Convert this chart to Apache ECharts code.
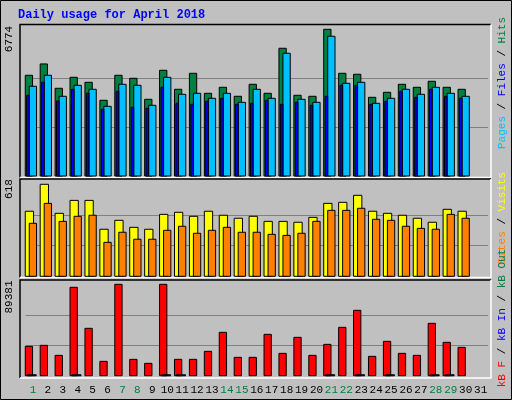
<!DOCTYPE html>
<html><head><meta charset="utf-8">
<script src="https://cdn.jsdelivr.net/npm/echarts@6/dist/echarts.min.js"></script>
<style>html,body{margin:0;padding:0;background:#C0C0C0}#c{width:512px;height:400px}</style>
</head><body><div id="c"></div>
<script>
const days = ['1','2','3','4','5','6','7','8','9','10','11','12','13','14','15','16','17','18','19','20','21','22','23','24','25','26','27','28','29','30','31'];
const weekend = ['1','7','8','14','15','21','22','28','29'];
const hits  = [4651,5174,4050,4558,4327,3496,4651,4512,3542,4882,4004,4743,3819,4096,3681,4235,3819,5898,3727,3681,6774,4743,4697,3634,3865,4235,4096,4374,4096,4004,0];
const files = [4143,4651,3681,4189,4004,3219,4235,4189,3265,4558,3773,3819,3588,3819,3403,4004,3588,5667,3542,3403,6453,4281,4327,3357,3588,4004,3773,4096,3819,3681,0];
const pages = [3727,4327,3465,4004,3819,3080,3912,3172,3126,4096,3357,3311,3450,3588,3311,3357,3496,3311,3403,3265,3681,4189,4189,3311,3450,3912,3634,4004,3681,3588,0];
const visits = [437,618,423,510,510,316,376,329,316,416,430,403,437,410,390,403,369,369,363,396,490,497,544,437,423,410,390,363,450,437,0];
const sites  = [356,490,369,403,410,228,296,249,249,309,336,289,309,329,296,296,282,275,289,369,443,443,457,383,376,336,322,316,416,390,0];
const kbF  = [28706,29684,19898,86443,46320,14027,89381,15984,12069,89381,15984,15984,23813,42406,17941,17941,40449,21855,37513,19898,30663,47299,63935,18920,33599,21855,19898,51213,32620,27727,0];
const kbIn = [900,0,0,900,0,0,0,0,0,900,900,0,0,0,0,0,0,0,0,0,900,0,900,0,900,0,0,900,900,0,0];
const maxTop = 6774, maxMid = 618, maxBot = 89381;

const chart = echarts.init(document.getElementById('c'));
const L = 25.5, W = 462.6;
function bar(data, gi, off, w, color){
  return {type:'custom', xAxisIndex:gi, yAxisIndex:gi, clip:false,
    data: data.map((v,i)=>[i,v]),
    renderItem:(p,api)=>{
      const v=api.value(1); if(!v) return null;
      const t=api.coord([api.value(0),v]), b=api.coord([api.value(0),0]);
      return {type:'rect', shape:{x:t[0]+off, y:t[1], width:w, height:Math.max(b[1]-t[1],1)},
        style:{fill:color, stroke:'#000', lineWidth:1}};
    }};
}
const grids=[{left:L,width:W,top:29.3,height:146.7},{left:L,width:W,top:184.3,height:92},{left:L,width:W,top:284.3,height:91.4}];
const maxes=[maxTop,maxMid,maxBot];
const mono='"Liberation Mono","DejaVu Sans Mono",monospace';
function panel(y,h){return [
  {type:'rect',shape:{x:20,y:y,width:471,height:h},style:{fill:'#C0C0C0',stroke:null},z:-10},
  {type:'polyline',shape:{points:[[20,y+h],[20,y],[491,y]]},style:{stroke:'#000',lineWidth:1.5,fill:null},z:-9},
  {type:'polyline',shape:{points:[[20,y+h],[491,y+h],[491,y]]},style:{stroke:'#fff',lineWidth:1.5,fill:null},z:-9}];}
function vtext(x,y,rich,str){return {type:'text',x:x,y:y,rotation:Math.PI/2,style:{text:str,rich:rich,font:'11px '+mono,align:'center',verticalAlign:'middle'}};}
chart.setOption({
  animation:false, backgroundColor:'#C0C0C0',
  grid:grids,
  xAxis:grids.map((g,i)=>({type:'category',gridIndex:i,data:days,boundaryGap:true,
    axisLine:{show:false},axisTick:{show:false},
    axisLabel:{show:i===2,margin:9,interval:0,fontFamily:mono,fontSize:11,
      formatter:v=>weekend.includes(v)?'{g|'+v+'}':'{k|'+v+'}',
      rich:{g:{color:'#008040',fontFamily:mono,fontSize:11},k:{color:'#000',fontFamily:mono,fontSize:11}}}})),
  yAxis:grids.map((g,i)=>({type:'value',gridIndex:i,min:0,max:maxes[i],interval:maxes[i]/3,
    axisLine:{show:false},axisTick:{show:false},axisLabel:{show:false},
    splitLine:{show:true,showMinLine:false,showMaxLine:false,lineStyle:{color:'#808080',width:1}}})),
  series:[
    bar(hits,0,-7.7,7.3,'#008040'),
    bar(files,0,-3.7,7.3,'#00C0FF'),
    bar(pages,0,-6.3,2.6,'#0000FF'),
    bar(visits,1,-7.7,8.3,'#FFFF00'),
    bar(sites,1,-3.7,7.3,'#FF8000'),
    bar(kbF,2,-7.7,7.3,'#FF0000'),
    bar(kbIn,2,-5.7,9,'#0000FF')
  ],
  graphic:[
    {type:'rect',shape:{x:0.5,y:0.5,width:511,height:399},style:{fill:null,stroke:'#000',lineWidth:1},z:-20},
    ...panel(24.5,153),...panel(179,98.5),...panel(280,98),
    {type:'text',x:18,y:9,style:{text:'Daily usage for April 2018',font:'bold 12px '+mono,fill:'#0000FF'}},
    {type:'text',x:9,y:39,rotation:Math.PI/2,style:{text:'6774',font:'11px '+mono,fill:'#000',align:'center',verticalAlign:'middle'}},
    {type:'text',x:9,y:189,rotation:Math.PI/2,style:{text:'618',font:'11px '+mono,fill:'#000',align:'center',verticalAlign:'middle'}},
    {type:'text',x:9,y:297,rotation:Math.PI/2,style:{text:'89381',font:'11px '+mono,fill:'#000',align:'center',verticalAlign:'middle'}},
    vtext(502,83,{p:{fill:'#00C0FF',font:'11px '+mono},f:{fill:'#0000FF',font:'11px '+mono},h:{fill:'#008040',font:'11px '+mono},s:{fill:'#000',font:'11px '+mono}},'{p|Pages}{s| / }{f|Files}{s| / }{h|Hits}'),
    vtext(502,218,{o:{fill:'#FF8000',font:'11px '+mono},v:{fill:'#FFFF00',font:'11px '+mono},s:{fill:'#000',font:'11px '+mono}},'{o|Sites}{s| / }{v|Visits}'),
    vtext(502,318,{r:{fill:'#FF0000',font:'11px '+mono},b:{fill:'#0000FF',font:'11px '+mono},g:{fill:'#008040',font:'11px '+mono},s:{fill:'#000',font:'11px '+mono}},'{r|kB F}{s| / }{b|kB In}{s| / }{g|kB Out}')
  ]
});
</script></body></html>
